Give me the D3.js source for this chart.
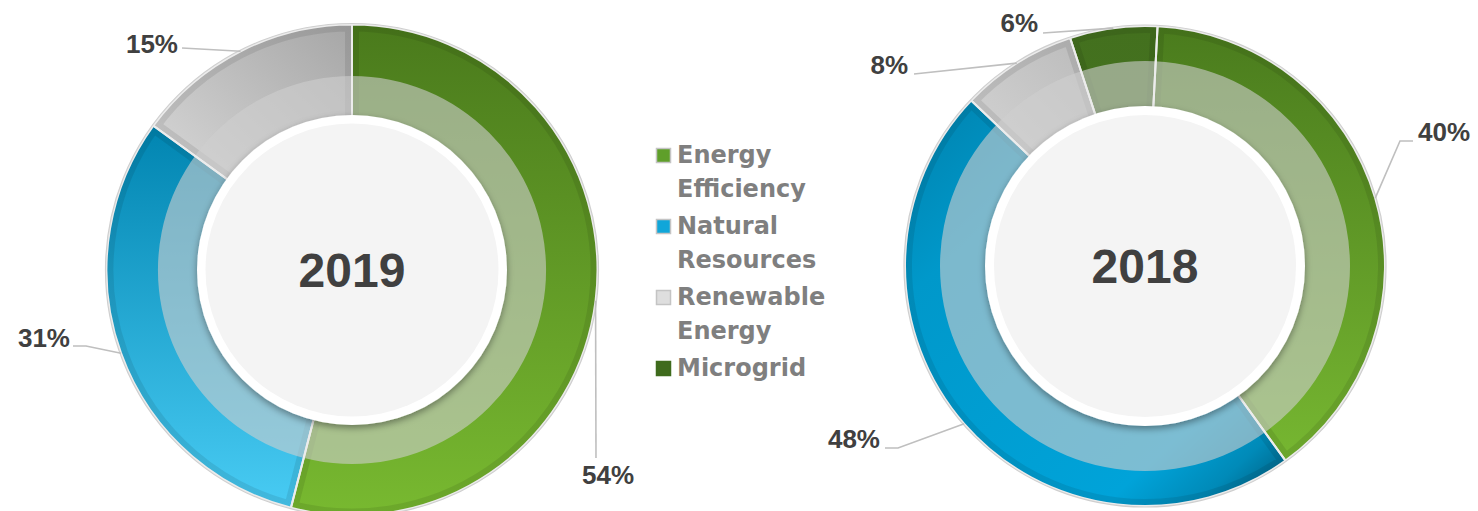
<!DOCTYPE html>
<html>
<head>
<meta charset="utf-8">
<script src="https://cdn.jsdelivr.net/npm/d3@7"></script>
<style>
  html, body { margin: 0; padding: 0; background: #ffffff; }
  svg { display: block; }
</style>
</head>
<body>
<svg id="chart" width="1478" height="511"></svg>
<script>
// ---------------- DATA ----------------
const categories = ["Energy Efficiency", "Natural Resources", "Renewable Energy", "Microgrid"];
const legendLines = [["Energy", "Efficiency"], ["Natural", "Resources"], ["Renewable", "Energy"], ["Microgrid"]];
const years = ["2019", "2018"];
const values2019 = [54, 31, 15, 0];
const values2018 = [40, 48, 8, 6];
const labels2019 = ["54%", "31%", "15%", ""];
const labels2018 = ["40%", "48%", "8%", "6%"];

// ---------------- LAYOUT / STYLE ----------------
const charts = [
  { year: years[0], values: values2019, labels: labels2019,
    cx: 352, cy: 270, rOuter: 245.5, rBand: 194, rWhite: 155, rCore: 146.5, startDeg: 0,
    leaders: [
      { pts: [[244, 188]], text: [256, 214], anchor: "middle" },
      { pts: [[-266, 76], [-279, 76]], text: [-282, 77], anchor: "end" },
      { pts: [[-170, -222]], text: [-174, -217], anchor: "end" },
      null
    ],
    grads: [
      { type: "v", stops: [[0, "#4a7a1c"], [1, "#78b930"]] },
      { type: "v", stops: [[0, "#00789f"], [0.2, "#0084b0"], [1, "#4acdf5"]] },
      { type: "d", stops: [[0, "#a6a6a6"], [1, "#dcdcdc"]], v: [0, -1, -0.75, -0.2] },
      { type: "v", stops: [[0, "#44701f"], [1, "#4a7823"]] }
    ] },
  { year: years[1], values: values2018, labels: labels2018,
    cx: 1145, cy: 266, rOuter: 240, rBand: 205, rWhite: 160, rCore: 151, startDeg: 3,
    leaders: [
      { pts: [[255, -125], [268, -125]], text: [273, -125], anchor: "start" },
      { pts: [[-247, 182], [-260, 182]], text: [-265, 182], anchor: "end" },
      { pts: [[-231, -192]], text: [-237, -192], anchor: "end" },
      { pts: [[-102, -233]], text: [-107, -234], anchor: "end" }
    ],
    grads: [
      { type: "v", stops: [[0, "#4a7b1d"], [1, "#7bbd33"]] },
      { type: "d", stops: [[0, "#007ea8"], [0.3, "#0098ca"], [0.82, "#00a3d9"], [0.93, "#008ab8"], [1, "#00678b"]], v: [-1, -0.8, 0.55, 0.9] },
      { type: "d", stops: [[0, "#b4b4b4"], [1, "#d2d2d2"]], v: [0, -1, -0.6, -0.4] },
      { type: "v", stops: [[0, "#43701e"], [1, "#4b7a24"]] }
    ] }
];
const legendColors = ["#5f9f2a", "#10a6d9", "#dedede", "#3f6b1d"];
const legendBorders = ["#c4c4c4", "#c4c4c4", "#c4c4c4", "#3f6b1d"];

// ---------------- DRAW ----------------
const svg = d3.select("#chart");
const defs = svg.append("defs");

const shadow = defs.append("filter").attr("id", "shadow")
  .attr("x", "-20%").attr("y", "-20%").attr("width", "140%").attr("height", "140%");
shadow.append("feDropShadow").attr("dx", 0).attr("dy", 3).attr("stdDeviation", 3.5)
  .attr("flood-color", "#000").attr("flood-opacity", 0.38);

charts.forEach((c, ci) => {
  const g = svg.append("g").attr("transform", `translate(${c.cx},${c.cy})`);
  const start = c.startDeg * Math.PI / 180;
  const pie = d3.pie().sort(null).value(d => d)
    .startAngle(start).endAngle(start + 2 * Math.PI);
  const slices = pie(c.values);

  const arcFull = d3.arc().innerRadius(c.rCore - 2).outerRadius(c.rOuter);
  const arcOut = d3.arc().innerRadius(c.rOuter).outerRadius(c.rOuter);

  c.grads.forEach((gd, i) => {
    const lg = defs.append("linearGradient").attr("id", `g${ci}_${i}`)
      .attr("gradientUnits", "userSpaceOnUse");
    let v = gd.type === "v" ? [0, -1, 0, 1] : gd.v;
    lg.attr("x1", v[0] * c.rOuter).attr("y1", v[1] * c.rOuter)
      .attr("x2", v[2] * c.rOuter).attr("y2", v[3] * c.rOuter);
    gd.stops.forEach(s => lg.append("stop").attr("offset", s[0]).attr("stop-color", s[1]));
  });

  const drawn = slices.filter(s => s.value > 0);

  // clip paths (in the group's user space)
  drawn.forEach(s => {
    defs.append("clipPath").attr("id", `clip${ci}_${s.index}`)
      .append("path").attr("d", arcFull(s));
  });

  g.selectAll("path.slice").data(drawn).join("path")
    .attr("class", "slice")
    .attr("d", arcFull)
    .attr("fill", s => `url(#g${ci}_${s.index})`);

  // inset darker band
  drawn.forEach(s => {
    g.append("path")
      .attr("d", arcFull(s))
      .attr("fill", "none")
      .attr("stroke", "rgba(0,0,0,0.085)")
      .attr("stroke-width", 14)
      .attr("clip-path", `url(#clip${ci}_${s.index})`);
  });

  const g2 = svg.append("g").attr("transform", `translate(${c.cx},${c.cy})`);
  g2.append("path")
    .attr("d", d3.arc().innerRadius(c.rCore - 2).outerRadius(c.rBand).startAngle(0).endAngle(2 * Math.PI)())
    .attr("fill", "rgba(206,206,206,0.6)");

  g2.selectAll("path.sep").data(drawn).join("path")
    .attr("class", "sep")
    .attr("d", arcFull)
    .attr("fill", "none")
    .attr("stroke", "#ececec")
    .attr("stroke-width", 2);

  g2.append("circle").attr("r", c.rOuter + 1).attr("fill", "none")
    .attr("stroke", "#cfcfcf").attr("stroke-width", 1.2);

  g2.append("circle").attr("r", c.rWhite).attr("fill", "#ffffff").attr("filter", "url(#shadow)");
  g2.append("circle").attr("r", c.rCore).attr("fill", "#f4f4f4");

  g2.append("text")
    .attr("text-anchor", "middle")
    .attr("y", 17)
    .attr("font-family", "'Liberation Sans', Arial, sans-serif")
    .attr("font-weight", "bold")
    .attr("font-size", 48)
    .attr("fill", "#404040")
    .text(c.year);

  drawn.forEach(s => {
    const L = c.leaders[s.index];
    if (!L) return;
    const p0 = arcOut.centroid(s);
    const pts = [p0].concat(L.pts);
    g2.append("path")
      .attr("d", d3.line()(pts))
      .attr("fill", "none")
      .attr("stroke", "#bfbfbf")
      .attr("stroke-width", 1.6);
    g2.append("text")
      .attr("x", L.text[0]).attr("y", L.text[1])
      .attr("text-anchor", L.anchor)
      .attr("font-family", "'Liberation Sans', Arial, sans-serif")
      .attr("font-weight", "bold")
      .attr("font-size", 26)
      .attr("fill", "#404040")
      .text(c.labels[s.index]);
  });
});

// legend
const legend = svg.append("g").attr("transform", "translate(656,163)");
categories.forEach((cat, i) => {
  const item = legend.append("g").attr("transform", `translate(0,${i * 71})`);
  item.append("rect").attr("x", 0.5).attr("y", -14.5).attr("width", 14).attr("height", 14)
    .attr("fill", legendColors[i]).attr("stroke", legendBorders[i]).attr("stroke-width", 1.5);
  legendLines[i].forEach((ln, j) => {
    item.append("text")
      .attr("x", 21).attr("y", j * 33.5)
      .attr("font-family", "'DejaVu Sans', sans-serif")
      .attr("font-weight", "bold")
      .attr("font-size", 24)
      .attr("fill", "#7f7f7f")
      .text(ln);
  });
});
</script>
</body>
</html>
